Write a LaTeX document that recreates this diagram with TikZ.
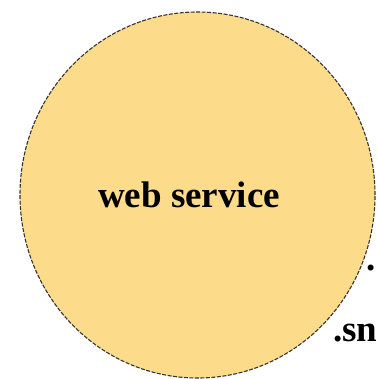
\documentclass[tikz,border=0pt]{standalone}
\usepackage{fontspec}
\setmainfont{Liberation Serif}
\usetikzlibrary{shapes.geometric}

\definecolor{wsfill}{RGB}{252,220,138}

\begin{document}
\begin{tikzpicture}[
  x=1pt, y=-1pt,
  every node/.style={font=\fontsize{37}{40}\selectfont\bfseries, inner sep=0pt, text=black},
  service/.style={ellipse, draw=black!80, fill=wsfill, line width=1.1pt, dash pattern=on 4pt off 1.5pt, minimum width=355pt, minimum height=366pt}
]
\useasboundingbox (0,0) rectangle (376,379);
\node[service] (ws) at (197.5,195) {};
\node[anchor=base] (wslabel) at (189,207) {web service};
\node[anchor=base west] (sn) at (333,341) {.sn};
\node[anchor=base west] (dot) at (366,270) {.};
\end{tikzpicture}
\end{document}
